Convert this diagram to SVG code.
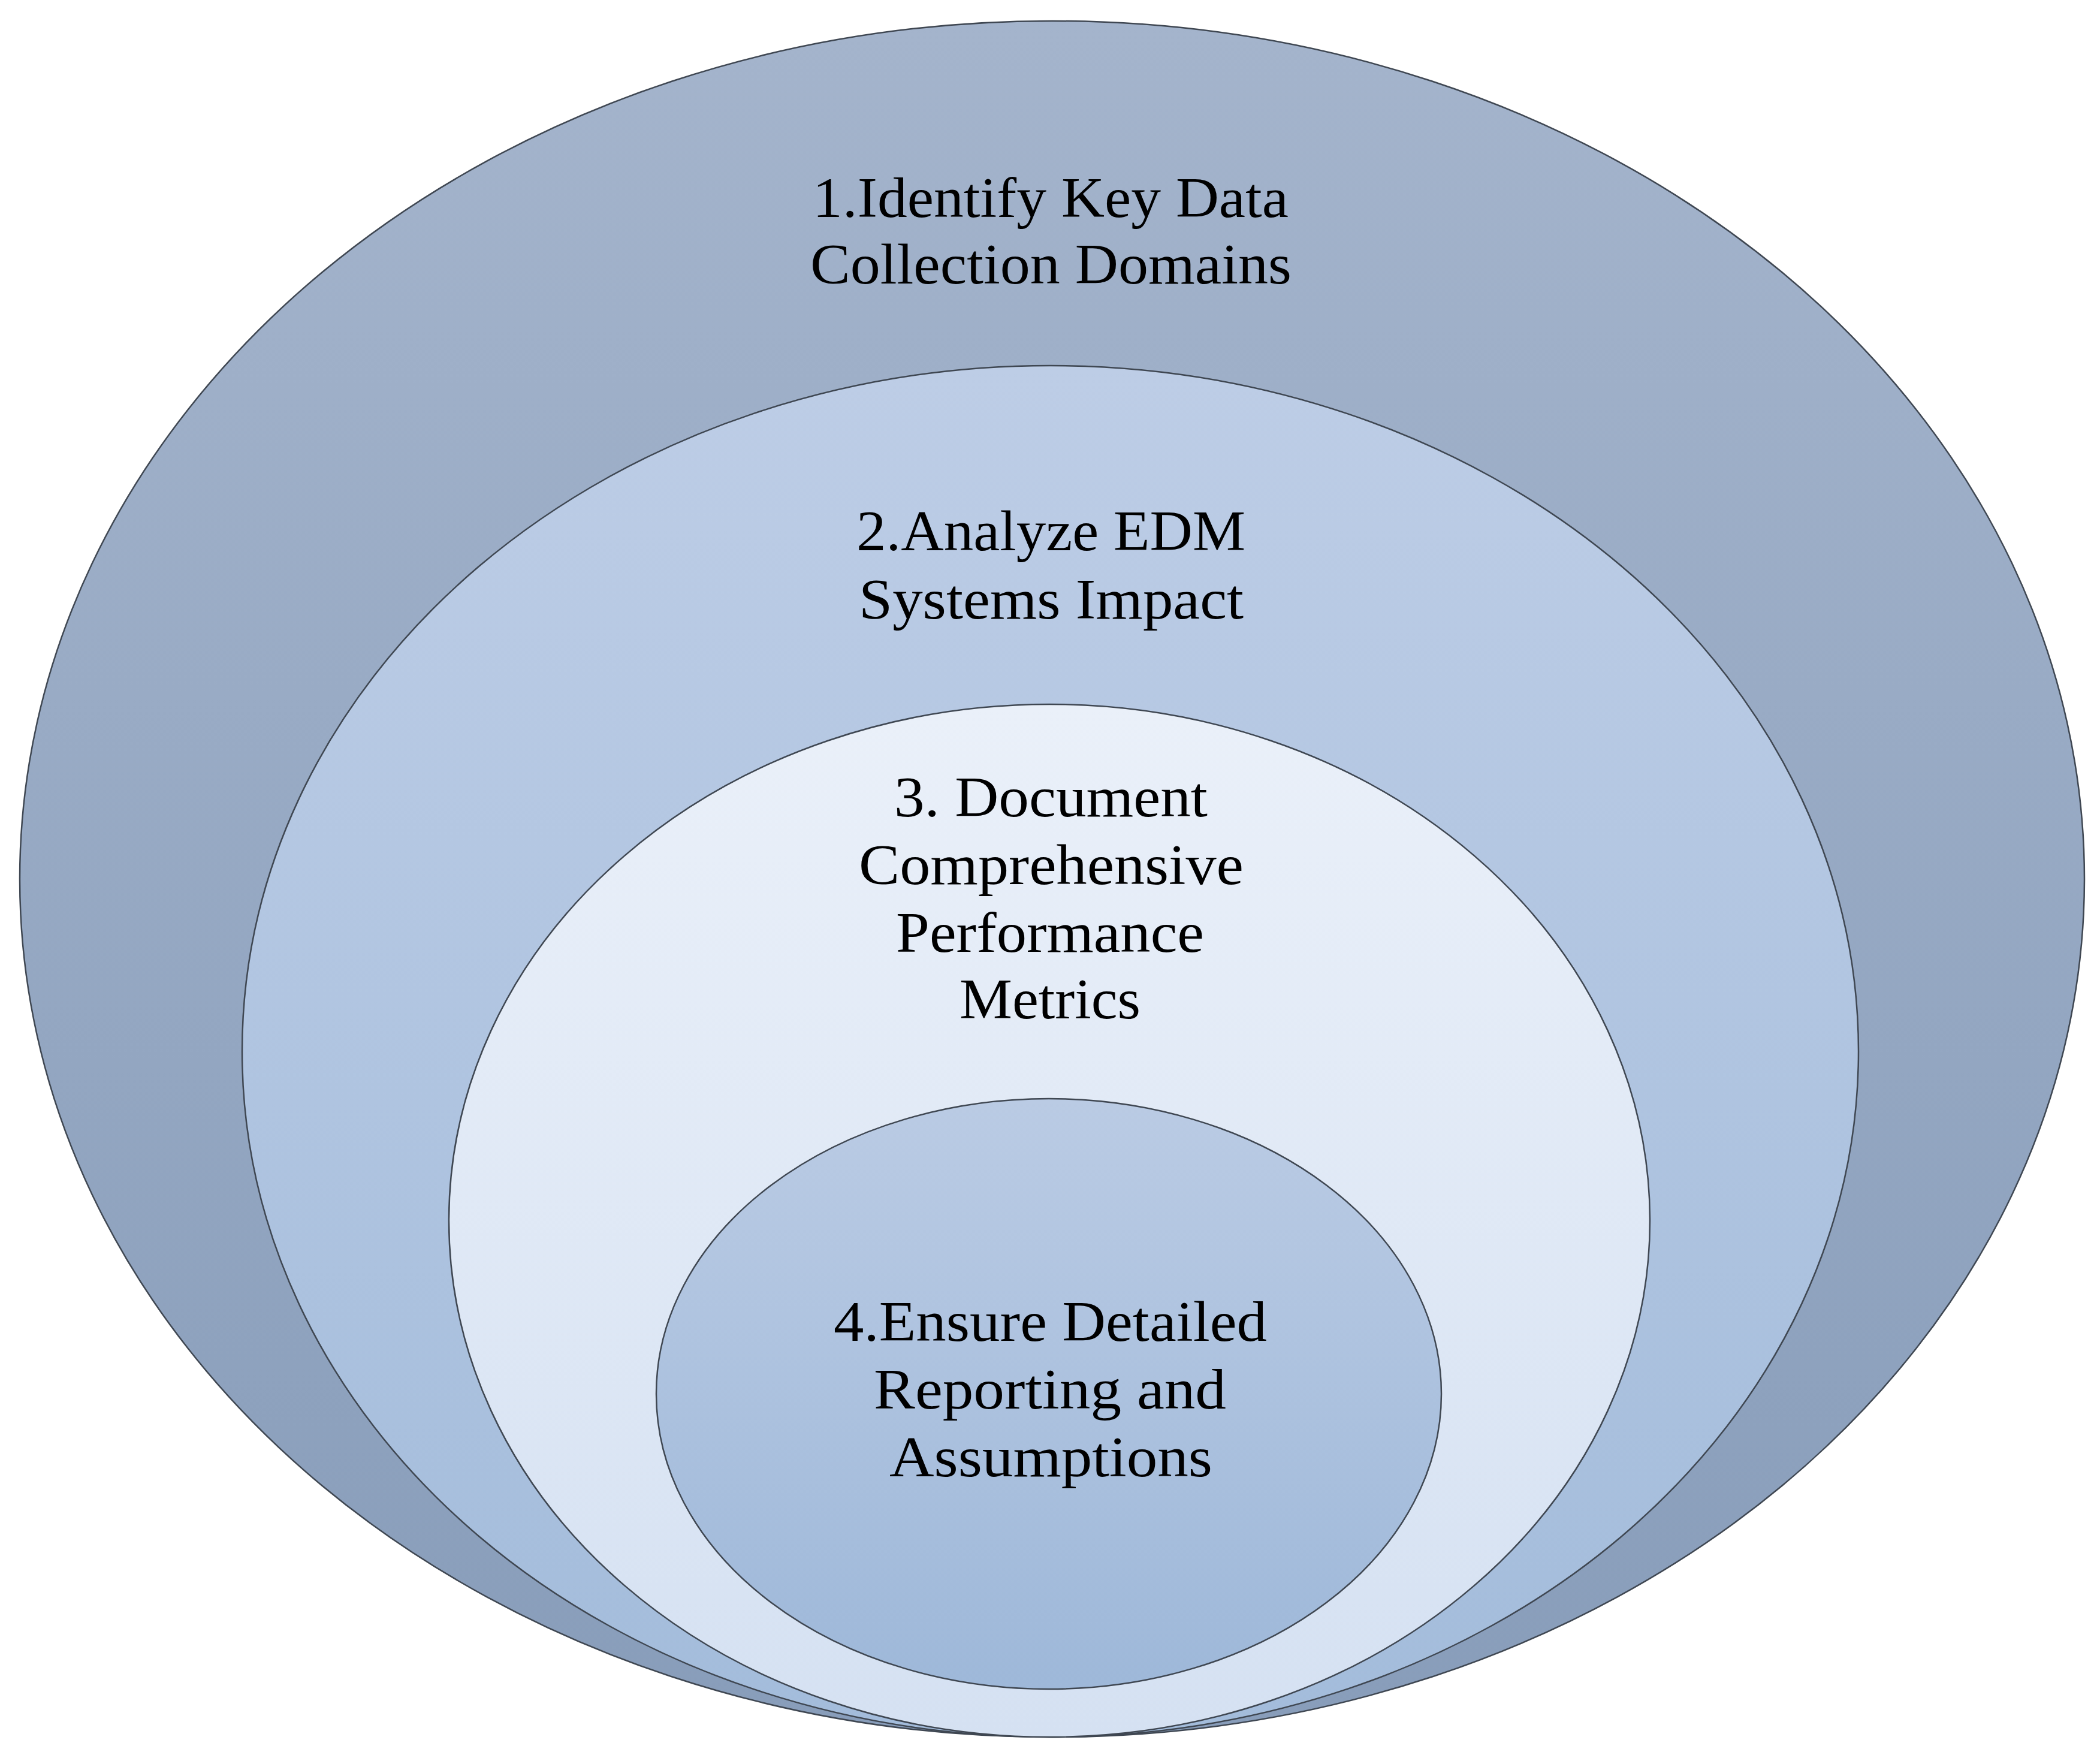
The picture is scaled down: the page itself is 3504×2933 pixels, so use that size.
<svg xmlns="http://www.w3.org/2000/svg" width="3504" height="2933" viewBox="0 0 3504 2933">
<defs>
<linearGradient id="g1" x1="0" y1="0" x2="0" y2="1"><stop offset="0" stop-color="#a4b4cc"/><stop offset="1" stop-color="#889dba"/></linearGradient>
<linearGradient id="g2" x1="0" y1="0" x2="0" y2="1"><stop offset="0" stop-color="#bdcde6"/><stop offset="1" stop-color="#a3bcdb"/></linearGradient>
<linearGradient id="g3" x1="0" y1="0" x2="0" y2="1"><stop offset="0" stop-color="#eaf0f9"/><stop offset="1" stop-color="#d5e1f2"/></linearGradient>
<linearGradient id="g4" x1="0" y1="0" x2="0" y2="1"><stop offset="0" stop-color="#bacbe4"/><stop offset="1" stop-color="#9eb8d9"/></linearGradient>
</defs>
<style>
.ring{stroke:#3f4752;stroke-width:2.5}
.lbl{font-family:"Liberation Serif","Times New Roman",serif;font-size:96px;fill:#000}
</style>
<rect width="3504" height="2933" fill="#ffffff"/>
<g id="node1">
<ellipse class="ring" cx="1755.5" cy="1466.5" rx="1722.5" ry="1431.5" fill="url(#g1)"/>
<text class="lbl" x="1356" y="362" textLength="794" lengthAdjust="spacingAndGlyphs">1.Identify Key Data</text>
<text class="lbl" x="1352" y="473" textLength="803" lengthAdjust="spacingAndGlyphs">Collection Domains</text>
</g>
<g id="node2">
<ellipse class="ring" cx="1752.5" cy="1754" rx="1348.5" ry="1144" fill="url(#g2)"/>
<text class="lbl" x="1429" y="918" textLength="649" lengthAdjust="spacingAndGlyphs">2.Analyze EDM</text>
<text class="lbl" x="1433" y="1032" textLength="642" lengthAdjust="spacingAndGlyphs">Systems Impact</text>
</g>
<g id="node3">
<ellipse class="ring" cx="1751" cy="2036.5" rx="1002" ry="861.5" fill="url(#g3)"/>
<text class="lbl" x="1492" y="1362" textLength="523" lengthAdjust="spacingAndGlyphs">3. Document</text>
<text class="lbl" x="1433" y="1475" textLength="642" lengthAdjust="spacingAndGlyphs">Comprehensive</text>
<text class="lbl" x="1495" y="1588" textLength="514" lengthAdjust="spacingAndGlyphs">Performance</text>
<text class="lbl" x="1601" y="1699" textLength="302" lengthAdjust="spacingAndGlyphs">Metrics</text>
</g>
<g id="node4">
<ellipse class="ring" cx="1750" cy="2325.5" rx="655" ry="492.5" fill="url(#g4)"/>
<text class="lbl" x="1391" y="2237" textLength="723" lengthAdjust="spacingAndGlyphs">4.Ensure Detailed</text>
<text class="lbl" x="1458" y="2350" textLength="588" lengthAdjust="spacingAndGlyphs">Reporting and</text>
<text class="lbl" x="1484" y="2463" textLength="539" lengthAdjust="spacingAndGlyphs">Assumptions</text>
</g>
<g id="connectors"/>
</svg>
